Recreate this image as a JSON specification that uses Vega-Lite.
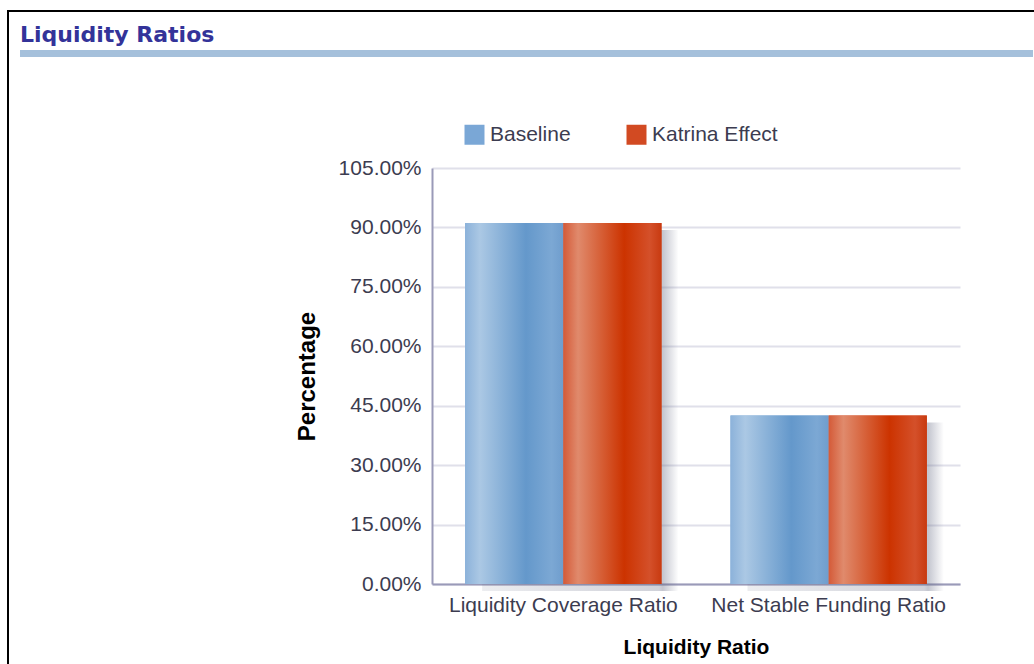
{
  "$schema": "https://vega.github.io/schema/vega-lite/v6.json",
  "padding": {"left": 7, "top": 10, "right": 0, "bottom": 0},
  "background": "white",
  "config": {
    "view": {"stroke": null},
    "font": "Liberation Sans"
  },
  "datasets": {
    "ratios": [
      {"ratio": "Liquidity Coverage Ratio", "scenario": "Baseline", "value": 0.911},
      {"ratio": "Liquidity Coverage Ratio", "scenario": "Katrina Effect", "value": 0.911},
      {"ratio": "Net Stable Funding Ratio", "scenario": "Baseline", "value": 0.425},
      {"ratio": "Net Stable Funding Ratio", "scenario": "Katrina Effect", "value": 0.425}
    ],
    "blank": [{"k": 1}]
  },
  "spacing": 0,
  "resolve": {"legend": {"color": "independent"}},
  "vconcat": [
    {
      "width": 1027, "height": 2,
      "data": {"name": "blank"},
      "mark": {"type": "rect", "opacity": 0},
      "encoding": {},
      "view": {"fill": "black", "stroke": null}
    },
    {
      "spacing": 11,
      "resolve": {"legend": {"color": "independent"}},
      "hconcat": [
        {
          "width": 2, "height": 652,
          "data": {"name": "blank"},
          "mark": {"type": "rect", "opacity": 0},
          "encoding": {},
          "view": {"fill": "black", "stroke": null}
        },
        {
          "spacing": 0,
          "resolve": {"legend": {"color": "independent"}},
          "vconcat": [
            {
              "width": 1, "height": 12,
              "data": {"name": "blank"},
              "mark": {"type": "rect", "opacity": 0},
              "encoding": {}
            },
            {
              "width": 1013, "height": 7,
              "title": {"text": "Liquidity Ratios", "anchor": "start", "frame": "group", "font": "DejaVu Sans", "fontSize": 22, "fontWeight": "bold", "color": "#333399", "offset": 3},
              "data": {"name": "blank"},
              "mark": {"type": "rect", "opacity": 0},
              "encoding": {},
              "view": {"fill": "#a5c0db", "stroke": null}
            },
            {
              "width": 1, "height": 67,
              "data": {"name": "blank"},
              "mark": {"type": "rect", "opacity": 0},
              "encoding": {}
            },
            {
              "spacing": 0,
              "resolve": {"legend": {"color": "independent"}},
              "hconcat": [
                {
                  "width": 275, "height": 1,
                  "data": {"name": "blank"},
                  "mark": {"type": "rect", "opacity": 0},
                  "encoding": {}
                },
                {
                  "width": 528, "height": 416,
                  "data": {"name": "ratios"},
                  "encoding": {
                    "x": {
                      "field": "ratio", "type": "nominal", "sort": null,
                      "scale": {"paddingInner": 0.26, "paddingOuter": 0.125},
                      "title": "Liquidity Ratio",
                      "axis": {
                        "labelAngle": 0, "domainColor": "#9a9ab8", "domainWidth": 2, "ticks": false, "grid": false,
                        "labelPadding": 10, "labelFont": "Liberation Sans", "labelFontSize": 21, "labelColor": "#3c3c50", "labelLimit": 400,
                        "titleFont": "Liberation Sans", "titleFontSize": 21, "titleFontWeight": "bold", "titleColor": "black", "titlePadding": 21
                      }
                    },
                    "y": {
                      "field": "value", "type": "quantitative",
                      "scale": {"domain": [0, 1.05], "nice": false},
                      "title": "Percentage",
                      "axis": {
                        "values": [0, 0.15, 0.3, 0.45, 0.6, 0.75, 0.9, 1.05], "format": ".2%",
                        "domainColor": "#9a9ab8", "domainWidth": 2, "ticks": false,
                        "gridColor": "#e0e0ea", "gridWidth": 2,
                        "labelPadding": 11, "labelFont": "Liberation Sans", "labelFontSize": 21, "labelColor": "#3c3c50",
                        "titleFont": "Liberation Sans", "titleFontSize": 24, "titleFontWeight": "bold", "titleColor": "black", "titlePadding": 19
                      }
                    }
                  },
                  "layer": [
                    {
                      "transform": [{"filter": "datum.scenario === 'Katrina Effect'"}],
                      "mark": {
                        "type": "bar", "xOffset": 17, "yOffset": 7,
                        "fill": {"gradient": "linear", "x1": 0, "y1": 0, "x2": 1, "y2": 0,
                          "stops": [
                            {"offset": 0, "color": "rgba(100,105,130,0.12)"},
                            {"offset": 0.9, "color": "rgba(100,105,130,0.3)"},
                            {"offset": 0.92, "color": "rgba(100,105,130,0.38)"},
                            {"offset": 1, "color": "rgba(100,105,130,0)"}
                          ]}
                      }
                    },
                    {
                      "mark": {"type": "bar"},
                      "encoding": {
                        "xOffset": {
                          "field": "scenario", "type": "nominal", "sort": ["Baseline", "Katrina Effect"],
                          "scale": {"paddingInner": 0, "paddingOuter": 0}
                        },
                        "color": {
                          "field": "scenario", "type": "nominal",
                          "scale": {"domain": ["Baseline", "Katrina Effect"], "range": ["#7aa7d6", "#d24a22"]},
                          "legend": {
                            "orient": "none", "legendX": 32, "legendY": -44, "direction": "horizontal", "title": null,
                            "symbolType": "square", "symbolSize": 400, "symbolStrokeWidth": 0, "symbolOpacity": 1,
                            "labelFont": "Liberation Sans", "labelFontSize": 21, "labelColor": "#3c3c50", "labelOffset": 5, "labelLimit": 300,
                            "columnPadding": 55, "padding": 0
                          }
                        }
                      }
                    },
                    {
                      "transform": [{"filter": "datum.scenario === 'Baseline'"}],
                      "mark": {
                        "type": "bar",
                        "fill": {"gradient": "linear", "x1": 0, "y1": 0, "x2": 1, "y2": 0,
                          "stops": [
                            {"offset": 0, "color": "#8cb2da"},
                            {"offset": 0.15, "color": "#abc8e4"},
                            {"offset": 0.62, "color": "#6498cb"},
                            {"offset": 0.88, "color": "#7ca8d4"},
                            {"offset": 1, "color": "#6f9dcd"}
                          ]}
                      },
                      "encoding": {
                        "xOffset": {"field": "scenario", "type": "nominal", "sort": ["Baseline", "Katrina Effect"]}
                      }
                    },
                    {
                      "transform": [{"filter": "datum.scenario === 'Katrina Effect'"}],
                      "mark": {
                        "type": "bar",
                        "fill": {"gradient": "linear", "x1": 0, "y1": 0, "x2": 1, "y2": 0,
                          "stops": [
                            {"offset": 0, "color": "#d45a38"},
                            {"offset": 0.15, "color": "#e08a6c"},
                            {"offset": 0.62, "color": "#cc3300"},
                            {"offset": 0.88, "color": "#d4502a"},
                            {"offset": 1, "color": "#c83a10"}
                          ]}
                      },
                      "encoding": {
                        "xOffset": {"field": "scenario", "type": "nominal", "sort": ["Baseline", "Katrina Effect"]}
                      }
                    }
                  ]
                }
              ]
            }
          ]
        }
      ]
    }
  ]
}
